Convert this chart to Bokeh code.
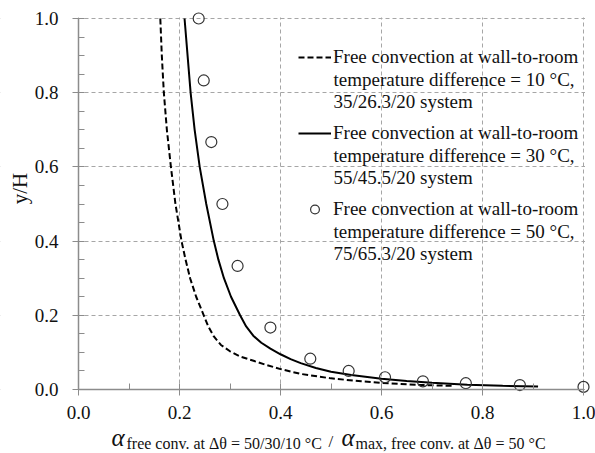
import math
from bokeh.plotting import figure
from bokeh.models import (Label, Legend, LegendItem, SingleIntervalTicker, Range1d,
                          PrintfTickFormatter, BoxAnnotation)
from bokeh.embed import file_html
from bokeh.resources import INLINE

# Free convection, wall-to-room temperature difference = 10 °C (dashed)
dash_x = [0.162, 0.165, 0.169, 0.175, 0.183, 0.192, 0.204, 0.212, 0.221, 0.233,
          0.248, 0.257, 0.268, 0.282, 0.300, 0.320, 0.345, 0.370, 0.400, 0.440,
          0.500, 0.560, 0.620, 0.680, 0.740]
dash_y = [1.000, 0.900, 0.800, 0.700, 0.600, 0.500, 0.400, 0.350, 0.300, 0.250,
          0.200, 0.170, 0.143, 0.120, 0.103, 0.089, 0.078, 0.067, 0.055, 0.042,
          0.030, 0.022, 0.016, 0.012, 0.010]

# Free convection, wall-to-room temperature difference = 30 °C (solid)
solid_x = [0.210, 0.216, 0.222, 0.230, 0.240, 0.253, 0.268, 0.277, 0.288, 0.302,
           0.320, 0.332, 0.346, 0.362, 0.380, 0.400, 0.420, 0.440, 0.470, 0.500,
           0.540, 0.600, 0.650, 0.700, 0.770, 0.840, 0.910]
solid_y = [1.000, 0.900, 0.800, 0.700, 0.600, 0.500, 0.400, 0.350, 0.300, 0.250,
           0.200, 0.170, 0.145, 0.126, 0.110, 0.095, 0.082, 0.071, 0.058, 0.048,
           0.039, 0.029, 0.023, 0.018, 0.013, 0.010, 0.008]

# Free convection, wall-to-room temperature difference = 50 °C (circles)
circ_x = [0.238, 0.248, 0.263, 0.285, 0.315, 0.380, 0.459, 0.535, 0.607, 0.682,
          0.767, 0.874, 1.000]
circ_y = [1.000, 0.833, 0.667, 0.500, 0.333, 0.167, 0.083, 0.050, 0.033, 0.022,
          0.017, 0.012, 0.007]

legend_first = ["Free convection at wall-to-room"] * 3
legend_rest = [
    ["temperature difference = 10 °C,", "35/26.3/20 system"],
    ["temperature difference = 30 °C,", "55/45.5/20 system"],
    ["temperature difference = 50 °C,", "75/65.3/20 system"],
]
y_label = "y/H"
xl_alpha = "α"
xl_sub1 = "free conv. at Δθ = 50/30/10 °C"
xl_slash = "/"
xl_sub2 = "max, free conv. at Δθ = 50 °C"

FONT = "Liberation Serif"
TXT = "#111111"
AX = "#8c8c8c"

# Layout in pixels: the frame fills the whole 595x453 canvas; the axes sit at
# x = 0 (pixel column 78) and y = 0 (pixel row 389) with 505 / 371 px per unit.
W, H = 595, 453
X0, Y0 = 78, 389
PXX, PXY = 505.0, 371.0

p = figure(width=W, height=H, output_backend="svg", toolbar_location=None,
           x_range=Range1d(-X0 / PXX, (W - X0) / PXX),
           y_range=Range1d(-(H - Y0) / PXY, Y0 / PXY),
           min_border=0, min_border_left=0, min_border_right=0,
           min_border_top=0, min_border_bottom=0)
p.outline_line_color = None
p.background_fill_color = "white"
p.border_fill_color = "white"

xt = SingleIntervalTicker(interval=0.2, num_minor_ticks=2)
yt = SingleIntervalTicker(interval=0.2, num_minor_ticks=4)
p.xaxis.ticker = xt
p.yaxis.ticker = yt
p.xgrid.ticker = xt
p.ygrid.ticker = yt
p.xaxis.fixed_location = 0
p.yaxis.fixed_location = 0
for ax in (p.xaxis[0], p.yaxis[0]):
    ax.bounds = (0, 1)
    ax.axis_line_color = AX
    ax.axis_line_width = 1.5
    ax.major_tick_line_color = AX
    ax.minor_tick_line_color = AX
    ax.major_tick_out = 6
    ax.major_tick_in = 0
    ax.minor_tick_in = 6
    ax.minor_tick_out = 0
    ax.major_label_text_font = FONT
    ax.major_label_text_font_style = "normal"
    ax.major_label_text_font_size = "19px"
    ax.major_label_text_color = TXT
    ax.formatter = PrintfTickFormatter(format="%.1f")
p.xaxis.major_label_standoff = 10
p.yaxis.major_label_standoff = 14

for g in (p.xgrid[0], p.ygrid[0]):
    g.bounds = (0, 1.01)
    g.grid_line_color = "#a6a6a6"
    g.grid_line_dash = "4 3"
    g.grid_line_width = 1

# white strips hiding the grid outside the 0..1 box (drawn under the data)
for kw in (dict(bottom=1.003), dict(left=1.003), dict(top=-0.003), dict(right=-0.003)):
    p.add_layout(BoxAnnotation(fill_color="white", fill_alpha=1, line_alpha=0,
                               level="underlay", **kw))

r_dash = p.line(dash_x, dash_y, line_color="black", line_width=2, line_dash="6 3")
r_solid = p.line(solid_x, solid_y, line_color="black", line_width=2)
r_circ = p.scatter(circ_x, circ_y, marker="circle", size=11, fill_color=None,
                   line_color="#333333", line_width=1.2)

legend = Legend(items=[LegendItem(label=legend_first[0], renderers=[r_dash]),
                       LegendItem(label=legend_first[1], renderers=[r_solid]),
                       LegendItem(label=legend_first[2], renderers=[r_circ])],
                location=(298, H - 220), glyph_width=33, glyph_height=22,
                label_height=22, label_standoff=2, padding=0, margin=0, spacing=54,
                border_line_color=None, background_fill_alpha=0, label_text_font=FONT,
                label_text_font_size="19px", label_text_line_height=1.1,
                label_text_color=TXT)
p.add_layout(legend)

# continuation lines of the legend entries (pixel rows of their centres)
line_centres = [[79, 101], [155, 177], [231, 253]]
for rest, cents in zip(legend_rest, line_centres):
    for txt, cy in zip(rest, cents):
        p.add_layout(Label(x=333, y=H - cy, x_units="screen", y_units="screen",
                           text=txt, text_font=FONT, text_font_size="19px",
                           text_color=TXT, text_baseline="middle", text_align="left"))

# y-axis title
p.add_layout(Label(x=19, y=H - 188, x_units="screen", y_units="screen", text=y_label,
                   angle=math.pi / 2, text_align="center", text_baseline="middle",
                   text_font=FONT, text_font_size="21px", text_color=TXT))

# composite x-axis title
lab = dict(x_units="screen", y_units="screen", text_font=FONT, text_color=TXT,
           text_baseline="alphabetic", text_align="left")
p.add_layout(Label(x=111, y=H - 437, text=xl_alpha, text_font_style="italic",
                   text_font_size="25px", **lab))
p.add_layout(Label(x=126, y=H - 443, text=xl_sub1, text_font_size="16px", **lab))
p.add_layout(Label(x=328, y=H - 441, text=xl_slash, text_font_size="17px", **lab))
p.add_layout(Label(x=341, y=H - 437, text=xl_alpha, text_font_style="italic",
                   text_font_size="25px", **lab))
p.add_layout(Label(x=355, y=H - 443, text=xl_sub2, text_font_size="16px", **lab))

open("out.html", "w").write(file_html(p, INLINE))
